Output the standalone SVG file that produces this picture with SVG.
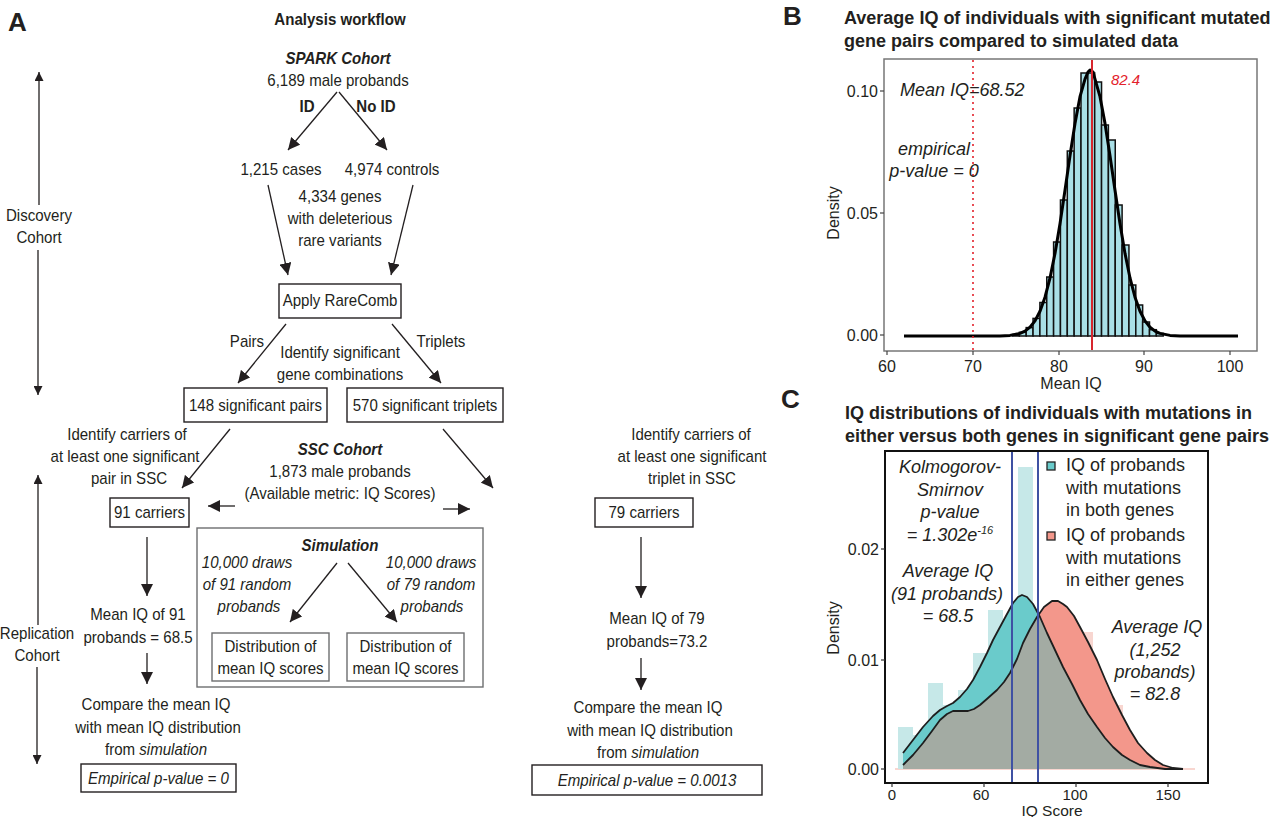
<svg xmlns="http://www.w3.org/2000/svg" width="1280" height="817" viewBox="0 0 1280 817">
<style>
text{font-family:"Liberation Sans",Arial,sans-serif;fill:#231f20}
.a{font-size:16.2px}
.m{text-anchor:middle}
.b{font-weight:bold}
.i{font-style:italic}
.bi{font-weight:bold;font-style:italic}
.box{fill:#fff;stroke:#231f20;stroke-width:1.4}
.gbox{fill:none;stroke:#6d6e70;stroke-width:1.4}
.con line{stroke:#231f20;stroke-width:1.3}
.p{font-size:18px}
.t{font-size:16px}
.hb{fill:#a9dfe6;stroke:#111;stroke-width:1.5}
.tf{fill:#c6e8e8}
.rf{fill:#f8d6d0}
</style>
<defs>
<marker id="ah" viewBox="0 0 12 12" markerWidth="12" markerHeight="12" refX="12" refY="6" orient="auto" markerUnits="userSpaceOnUse"><path d="M0,0 L12,6 L0,12 z" fill="#231f20"/></marker>
<marker id="ahs" viewBox="0 0 10 10" markerWidth="9" markerHeight="9" refX="10" refY="5" orient="auto" markerUnits="userSpaceOnUse"><path d="M0,0 L10,5 L0,10 z" fill="#231f20"/></marker>
</defs>
<rect width="1280" height="817" fill="#fff"/>

<!-- Panel A -->
<g id="panelA-label"><text x="8" y="31" font-size="26" class="b">A</text></g>
<g id="title-A"><text transform="translate(340,25) scale(0.93,1)" class="a b m">Analysis workflow</text></g>
<g id="spark"><text transform="translate(338,64) scale(0.93,1)" class="a bi m">SPARK Cohort</text><text transform="translate(338,86) scale(0.93,1)" class="a m">6,189 male probands</text></g>
<g id="lbl-id"><text transform="translate(307,112) scale(0.93,1)" class="a b m">ID</text><text transform="translate(376,112) scale(0.93,1)" class="a b m">No ID</text></g>
<g id="cases"><text transform="translate(281,175) scale(0.93,1)" class="a m">1,215 cases</text></g>
<g id="controls"><text transform="translate(392,175) scale(0.93,1)" class="a m">4,974 controls</text></g>
<g id="genes"><text transform="translate(340,202) scale(0.93,1)" class="a m">4,334 genes</text><text transform="translate(340,224) scale(0.93,1)" class="a m">with deleterious</text><text transform="translate(340,246) scale(0.93,1)" class="a m">rare variants</text></g>
<g id="rarecomb"><rect x="279" y="284" width="122" height="34" class="box"/><text transform="translate(340,306) scale(0.93,1)" class="a m">Apply RareComb</text></g>
<g id="lbl-pairs"><text transform="translate(247,347) scale(0.93,1)" class="a m">Pairs</text><text transform="translate(441,347) scale(0.93,1)" class="a m">Triplets</text></g>
<g id="identify-sig"><text transform="translate(340,358) scale(0.93,1)" class="a m">Identify significant</text><text transform="translate(340,380) scale(0.93,1)" class="a m">gene combinations</text></g>
<g id="pairs-box"><rect x="184" y="388" width="143" height="34" class="box"/><text transform="translate(255.5,411) scale(0.93,1)" class="a m">148 significant pairs</text></g>
<g id="triplets-box"><rect x="347" y="388" width="156" height="34" class="box"/><text transform="translate(425,411) scale(0.93,1)" class="a m">570 significant triplets</text></g>
<g id="carriers-left-text"><text transform="translate(127,440) scale(0.93,1)" class="a m">Identify carriers of</text><text transform="translate(125,462) scale(0.93,1)" class="a m">at least one significant</text><text transform="translate(129,484) scale(0.93,1)" class="a m">pair in SSC</text></g>
<g id="carriers-right-text"><text transform="translate(691,440) scale(0.93,1)" class="a m">Identify carriers of</text><text transform="translate(692,462) scale(0.93,1)" class="a m">at least one significant</text><text transform="translate(692,484) scale(0.93,1)" class="a m">triplet in SSC</text></g>
<g id="ssc"><text transform="translate(340,455) scale(0.93,1)" class="a bi m">SSC Cohort</text><text transform="translate(340,477) scale(0.93,1)" class="a m">1,873 male probands</text><text transform="translate(340,499) scale(0.93,1)" class="a m">(Available metric: IQ Scores)</text></g>
<g id="c91"><rect x="110" y="498" width="79" height="29" class="box"/><text transform="translate(149.5,518) scale(0.93,1)" class="a m">91 carriers</text></g>
<g id="c79"><rect x="595" y="498" width="98" height="29" class="box"/><text transform="translate(644,518) scale(0.93,1)" class="a m">79 carriers</text></g>
<g id="simulation">
<rect x="197" y="528" width="286" height="159" class="gbox"/>
<text transform="translate(340,551) scale(0.93,1)" class="a bi m">Simulation</text>
<text transform="translate(247,568) scale(0.93,1)" class="a i m">10,000 draws</text><text transform="translate(247,590) scale(0.93,1)" class="a i m">of 91 random</text><text transform="translate(249,612) scale(0.93,1)" class="a i m">probands</text>
<text transform="translate(431,568) scale(0.93,1)" class="a i m">10,000 draws</text><text transform="translate(431,590) scale(0.93,1)" class="a i m">of 79 random</text><text transform="translate(432,612) scale(0.93,1)" class="a i m">probands</text>
</g>
<g id="dist-left"><rect x="212" y="633" width="117" height="48" class="gbox"/><text transform="translate(270.5,652) scale(0.93,1)" class="a m">Distribution of</text><text transform="translate(270.5,674) scale(0.93,1)" class="a m">mean IQ scores</text></g>
<g id="dist-right"><rect x="347" y="633" width="117" height="48" class="gbox"/><text transform="translate(405.5,652) scale(0.93,1)" class="a m">Distribution of</text><text transform="translate(405.5,674) scale(0.93,1)" class="a m">mean IQ scores</text></g>
<g id="mean91"><text transform="translate(138,620) scale(0.93,1)" class="a m">Mean IQ of 91</text><text transform="translate(138,643) scale(0.93,1)" class="a m">probands = 68.5</text></g>
<g id="mean79"><text transform="translate(657,624) scale(0.93,1)" class="a m">Mean IQ of 79</text><text transform="translate(657,647) scale(0.93,1)" class="a m">probands=73.2</text></g>
<g id="compare-left"><text transform="translate(156,710) scale(0.93,1)" class="a m">Compare the mean IQ</text><text transform="translate(158,733) scale(0.93,1)" class="a m">with mean IQ distribution</text><text transform="translate(156,755) scale(0.93,1)" class="a m">from <tspan class="i">simulation</tspan></text></g>
<g id="compare-right"><text transform="translate(648,713) scale(0.93,1)" class="a m">Compare the mean IQ</text><text transform="translate(650,736) scale(0.93,1)" class="a m">with mean IQ distribution</text><text transform="translate(648,758) scale(0.93,1)" class="a m">from <tspan class="i">simulation</tspan></text></g>
<g id="pval-left"><rect x="81" y="764" width="155" height="28" class="box"/><text transform="translate(158.5,784) scale(0.93,1)" class="a i m">Empirical p-value = 0</text></g>
<g id="pval-right"><rect x="532" y="765" width="230" height="30" class="box"/><text transform="translate(647,786) scale(0.93,1)" class="a i m">Empirical p-value = 0.0013</text></g>
<g id="discovery-label"><text transform="translate(39,221) scale(0.93,1)" class="a m">Discovery</text><text transform="translate(39,243) scale(0.93,1)" class="a m">Cohort</text></g>
<g id="replication-label"><text transform="translate(37,639) scale(0.93,1)" class="a m">Replication</text><text transform="translate(37,661) scale(0.93,1)" class="a m">Cohort</text></g>

<g id="connectors" class="con">
<line x1="337" y1="92" x2="288" y2="150" marker-end="url(#ah)"/>
<line x1="339" y1="92" x2="387" y2="150" marker-end="url(#ah)"/>
<line x1="268" y1="185" x2="288" y2="275" marker-end="url(#ah)"/>
<line x1="413" y1="185" x2="391" y2="275" marker-end="url(#ah)"/>
<line x1="286" y1="324" x2="238" y2="383" marker-end="url(#ah)"/>
<line x1="392" y1="324" x2="441" y2="383" marker-end="url(#ah)"/>
<line x1="230" y1="429" x2="182" y2="488" marker-end="url(#ah)"/>
<line x1="443" y1="429" x2="493" y2="488" marker-end="url(#ah)"/>
<line x1="235" y1="506" x2="208" y2="506" marker-end="url(#ah)"/>
<line x1="443" y1="509" x2="470" y2="509" marker-end="url(#ah)"/>
<line x1="337" y1="563" x2="290" y2="622" marker-end="url(#ah)"/>
<line x1="348" y1="563" x2="397" y2="622" marker-end="url(#ah)"/>
<line x1="147" y1="537" x2="147" y2="596" marker-end="url(#ah)"/>
<line x1="147" y1="653" x2="147" y2="684" marker-end="url(#ah)"/>
<line x1="641" y1="537" x2="641" y2="598" marker-end="url(#ah)"/>
<line x1="641" y1="658" x2="641" y2="690" marker-end="url(#ah)"/>
<line x1="39" y1="205" x2="39" y2="72" marker-end="url(#ahs)"/>
<line x1="38" y1="250" x2="38" y2="395" marker-end="url(#ahs)"/>
<line x1="38" y1="625" x2="38" y2="475" marker-end="url(#ahs)"/>
<line x1="37" y1="667" x2="37" y2="764" marker-end="url(#ahs)"/>
</g>

<!-- Panel B -->
<g id="panelB">
<text x="783" y="25" font-size="26" class="b">B</text>
<text x="844" y="24" font-size="18" class="b">Average IQ of individuals with significant mutated</text>
<text x="844" y="47" font-size="18" class="b">gene pairs compared to simulated data</text>
<g id="hist">
<rect class="hb" x="1012.5" y="334.5" width="6.85" height="1.5"/>
<rect class="hb" x="1019.35" y="332.3" width="6.85" height="3.7"/>
<rect class="hb" x="1026.2" y="327.6" width="6.85" height="8.4"/>
<rect class="hb" x="1033.05" y="318.4" width="6.85" height="17.6"/>
<rect class="hb" x="1039.9" y="302.5" width="6.85" height="33.5"/>
<rect class="hb" x="1046.75" y="277" width="6.85" height="59"/>
<rect class="hb" x="1053.6" y="242" width="6.85" height="94"/>
<rect class="hb" x="1060.45" y="200" width="6.85" height="136"/>
<rect class="hb" x="1067.3" y="151" width="6.85" height="185"/>
<rect class="hb" x="1074.15" y="108" width="6.85" height="228"/>
<rect class="hb" x="1081" y="73" width="6.85" height="263"/>
<rect class="hb" x="1087.85" y="73" width="6.85" height="263"/>
<rect class="hb" x="1094.7" y="82" width="6.85" height="254"/>
<rect class="hb" x="1101.55" y="125" width="6.85" height="211"/>
<rect class="hb" x="1108.4" y="140" width="6.85" height="196"/>
<rect class="hb" x="1115.25" y="205" width="6.85" height="131"/>
<rect class="hb" x="1122.1" y="245" width="6.85" height="91"/>
<rect class="hb" x="1128.95" y="285" width="6.85" height="51"/>
<rect class="hb" x="1135.8" y="305" width="6.85" height="31"/>
<rect class="hb" x="1142.65" y="322" width="6.85" height="14"/>
<rect class="hb" x="1149.5" y="329.7" width="6.85" height="6.3"/>
<rect class="hb" x="1156.35" y="333.4" width="6.85" height="2.6"/>
</g>
<path d="M904,336 L1000,335.9 L1010,335.4 L1020,333.4 L1025,331.2 L1030,327.2 L1035,320.9 L1040,311.2 L1045,297.2 L1050,278 L1055,253.4 L1060,223.7 L1065,190.3 L1070,155.8 L1075,123.4 L1080,96.7 L1085,79.1 L1088,72 L1090,70 L1093,72 L1095,79.1 L1100,96.7 L1105,123.4 L1110,155.8 L1115,190.3 L1120,223.7 L1125,253.4 L1130,278 L1135,297.2 L1140,311.2 L1145,320.9 L1150,327.2 L1155,331.2 L1160,333.4 L1170,335.4 L1180,335.9 L1238,336" fill="none" stroke="#000" stroke-width="3" stroke-linejoin="round"/>
<line x1="973" y1="60" x2="973" y2="350" stroke="#e3212b" stroke-width="1.6" stroke-dasharray="2,4"/>
<line x1="1092" y1="60" x2="1092" y2="350" stroke="#d7262e" stroke-width="2"/>
<rect x="884" y="59" width="373" height="292" fill="none" stroke="#777" stroke-width="1.5"/>
<text x="1111" y="85" font-size="15" class="i" style="fill:#e3212b">82.4</text>
<text x="900" y="96" class="p i">Mean IQ=68.52</text>
<text x="934" y="155" class="p i m">empirical</text>
<text x="934" y="177" class="p i m">p-value = 0</text>
<g stroke="#444" stroke-width="1.2">
<line x1="880" y1="91" x2="884" y2="91"/><line x1="880" y1="213" x2="884" y2="213"/><line x1="880" y1="335" x2="884" y2="335"/>
<line x1="887" y1="351" x2="887" y2="355"/><line x1="973" y1="351" x2="973" y2="355"/><line x1="1059" y1="351" x2="1059" y2="355"/><line x1="1144" y1="351" x2="1144" y2="355"/><line x1="1230" y1="351" x2="1230" y2="355"/>
</g>
<text x="878" y="97" class="t" text-anchor="end">0.10</text>
<text x="878" y="219" class="t" text-anchor="end">0.05</text>
<text x="878" y="341" class="t" text-anchor="end">0.00</text>
<text x="887" y="372" class="t m">60</text>
<text x="973" y="372" class="t m">70</text>
<text x="1059" y="372" class="t m">80</text>
<text x="1144" y="372" class="t m">90</text>
<text x="1230" y="372" class="t m">100</text>
<text x="1071" y="389" class="t m">Mean IQ</text>
<text transform="translate(839,213) rotate(-90)" class="t m" font-size="17">Density</text>
</g>

<!-- Panel C -->
<g id="panelC">
<text x="781" y="408" font-size="26" class="b">C</text>
<text x="845" y="419" font-size="18" class="b">IQ distributions of individuals with mutations in</text>
<text x="845" y="442" font-size="18" class="b">either versus both genes in significant gene pairs</text>
<g id="faint-bars">
<rect class="rf" x="898" y="766" width="15" height="3"/>
<rect class="rf" x="913" y="752" width="15" height="17"/>
<rect class="rf" x="928" y="730" width="15" height="39"/>
<rect class="rf" x="943" y="722" width="15" height="47"/>
<rect class="rf" x="958" y="720" width="15" height="49"/>
<rect class="rf" x="973" y="705" width="15" height="64"/>
<rect class="rf" x="988" y="700" width="15" height="69"/>
<rect class="rf" x="1003" y="662" width="15" height="107"/>
<rect class="rf" x="1018" y="630" width="15" height="139"/>
<rect class="rf" x="1033" y="625" width="15" height="144"/>
<rect class="rf" x="1048" y="625" width="15" height="144"/>
<rect class="rf" x="1063" y="675" width="15" height="94"/>
<rect class="rf" x="1078" y="632" width="15" height="137"/>
<rect class="rf" x="1093" y="683" width="15" height="86"/>
<rect class="rf" x="1108" y="705" width="15" height="64"/>
<rect class="rf" x="1123" y="743" width="15" height="26"/>
<rect class="rf" x="1138" y="760" width="15" height="9"/>
<rect class="rf" x="1153" y="767" width="15" height="2"/>
<rect class="rf" x="895" y="768" width="300" height="2"/>
<rect class="tf" x="898" y="727" width="15" height="42"/>
<rect class="tf" x="913" y="735" width="15" height="34"/>
<rect class="tf" x="928" y="683" width="15" height="86"/>
<rect class="tf" x="943" y="705" width="15" height="64"/>
<rect class="tf" x="958" y="690" width="15" height="79"/>
<rect class="tf" x="973" y="653" width="15" height="116"/>
<rect class="tf" x="988" y="610" width="15" height="159"/>
<rect class="tf" x="1003" y="667" width="15" height="102"/>
<rect class="tf" x="1018" y="467" width="15" height="302"/>
<rect class="tf" x="1033" y="612" width="15" height="157"/>
<rect class="tf" x="1048" y="700" width="15" height="69"/>
<rect class="tf" x="1063" y="680" width="15" height="89"/>
</g>
<path id="red-area" d="M903,765 L913,755 L923,743 L932,731 L940,720 L947,714 L953,711 L960,711 L968,711 L974,709 L980,705 L988,698 L997,690 L1004,682 L1010,673 L1017,659 L1023,643 L1030,629 L1037,617 L1044,607 L1052,601 L1058,601 L1063,604 L1067,607 L1074,616 L1080,627 L1088,642 L1097,660 L1105,679 L1113,697 L1122,715 L1130,730 L1138,743 L1147,753 L1155,760 L1163,765 L1173,768 L1183,769 L903,769 Z" fill="#f3978b"/>
<path id="teal-area" d="M903,753 L913,740 L923,727 L933,716 L940,710 L947,706 L953,703 L960,697 L967,689 L973,680 L980,667 L987,653 L993,640 L1000,627 L1007,614 L1013,603 L1018,597 L1022,595 L1027,597 L1033,604 L1040,617 L1047,633 L1055,650 L1063,667 L1072,684 L1080,700 L1088,714 L1097,727 L1105,738 L1113,747 L1122,755 L1130,760 L1140,765 L1150,767 L1165,769 L1183,769 L903,769 Z" fill="#6acbcb"/>
<path id="overlap" d="M903,765 L913,755 L923,743 L932,731 L940,720 L947,714 L953,711 L960,711 L968,711 L974,709 L980,705 L988,698 L997,690 L1004,682 L1010,673 L1017,659 L1023,643 L1030,629 L1038,614 L1040,617 L1047,633 L1055,650 L1063,667 L1072,684 L1080,700 L1088,714 L1097,727 L1105,738 L1113,747 L1122,755 L1130,760 L1140,765 L1150,767 L1165,769 L1183,769 L903,769 Z" fill="#a3aba3"/>
<path d="M903,765 L913,755 L923,743 L932,731 L940,720 L947,714 L953,711 L960,711 L968,711 L974,709 L980,705 L988,698 L997,690 L1004,682 L1010,673 L1017,659 L1023,643 L1030,629 L1037,617 L1044,607 L1052,601 L1058,601 L1063,604 L1067,607 L1074,616 L1080,627 L1088,642 L1097,660 L1105,679 L1113,697 L1122,715 L1130,730 L1138,743 L1147,753 L1155,760 L1163,765 L1173,768 L1183,769" fill="none" stroke="#1e1e1e" stroke-width="1.8" stroke-linejoin="round"/>
<path d="M903,753 L913,740 L923,727 L933,716 L940,710 L947,706 L953,703 L960,697 L967,689 L973,680 L980,667 L987,653 L993,640 L1000,627 L1007,614 L1013,603 L1018,597 L1022,595 L1027,597 L1033,604 L1040,617 L1047,633 L1055,650 L1063,667 L1072,684 L1080,700 L1088,714 L1097,727 L1105,738 L1113,747 L1122,755 L1130,760 L1140,765 L1150,767 L1165,769 L1183,769" fill="none" stroke="#1e1e1e" stroke-width="1.8" stroke-linejoin="round"/>
<line x1="1012" y1="452" x2="1012" y2="782" stroke="#3f51a3" stroke-width="2"/>
<line x1="1038" y1="452" x2="1038" y2="782" stroke="#3f51a3" stroke-width="2"/>
<rect x="885" y="451" width="323" height="332" fill="none" stroke="#111" stroke-width="2"/>
<g id="legend">
<rect x="1047" y="462" width="8" height="8" fill="#6acbcb" stroke="#222" stroke-width="1.3"/>
<text x="1066" y="471" class="p">IQ of probands</text>
<text x="1066" y="494" class="p">with mutations</text>
<text x="1066" y="516" class="p">in both genes</text>
<rect x="1047" y="532" width="8" height="8" fill="#f3978b" stroke="#222" stroke-width="1.3"/>
<text x="1066" y="541" class="p">IQ of probands</text>
<text x="1066" y="564" class="p">with mutations</text>
<text x="1066" y="586" class="p">in either genes</text>
</g>
<text x="950" y="473" class="p i m">Kolmogorov-</text>
<text x="950" y="496" class="p i m">Smirnov</text>
<text x="950" y="518" class="p i m">p-value</text>
<text x="950" y="541" class="p i m">= 1.302e<tspan font-size="11" dy="-7">-16</tspan></text>
<text x="948" y="577" class="p i m">Average IQ</text>
<text x="947" y="600" class="p i m">(91 probands)</text>
<text x="948" y="622" class="p i m">= 68.5</text>
<text x="1157" y="633" class="p i m">Average IQ</text>
<text x="1155" y="656" class="p i m">(1,252</text>
<text x="1155" y="678" class="p i m">probands)</text>
<text x="1155" y="700" class="p i m">= 82.8</text>
<g stroke="#333" stroke-width="1.2">
<line x1="881" y1="549" x2="885" y2="549"/><line x1="881" y1="660" x2="885" y2="660"/><line x1="881" y1="769" x2="885" y2="769"/>
<line x1="892" y1="783" x2="892" y2="787"/><line x1="984" y1="783" x2="984" y2="787"/><line x1="1076" y1="783" x2="1076" y2="787"/><line x1="1168" y1="783" x2="1168" y2="787"/>
</g>
<text x="879" y="555" class="t" text-anchor="end">0.02</text>
<text x="879" y="666" class="t" text-anchor="end">0.01</text>
<text x="879" y="775" class="t" text-anchor="end">0.00</text>
<text x="892" y="800" font-size="15" class="m">0</text>
<text x="981" y="800" font-size="15" class="m">60</text>
<text x="1075" y="800" font-size="15" class="m">100</text>
<text x="1168" y="800" font-size="15" class="m">150</text>
<text x="1052" y="816" font-size="15.5" class="m">IQ Score</text>
<text transform="translate(839,628) rotate(-90)" class="t m" font-size="17">Density</text>
</g>
</svg>
